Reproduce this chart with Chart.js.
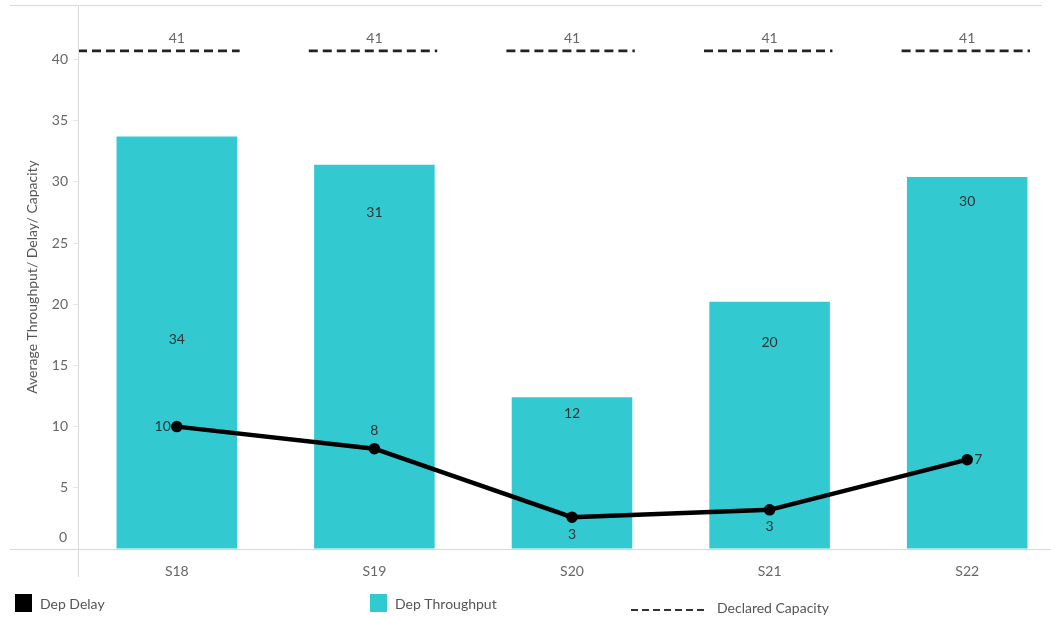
<!DOCTYPE html>
<html>
<head>
<meta charset="utf-8">
<script src="https://cdn.jsdelivr.net/npm/chart.js@4"></script>
<style>
  html, body { margin: 0; padding: 0; background: #fff; overflow: hidden; }
  #wrap { position: relative; width: 1066px; height: 617px; }
</style>
</head>
<body>
<div id="wrap"><canvas id="myChart" width="1066" height="617"></canvas></div>
<script>
const categories = ['S18', 'S19', 'S20', 'S21', 'S22'];
const depThroughput = [33.7, 31.4, 12.4, 20.2, 30.4];
const depDelay = [10.0, 8.2, 2.6, 3.2, 7.3];
const declaredCapacity = [40.7, 40.7, 40.7, 40.7, 40.7];
const yTicks = [0, 5, 10, 15, 20, 25, 30, 35, 40];

const TEAL = '#33c9d0';
const FONT = 'Lato, "Open Sans", sans-serif';
const GREY = '#666';
const DARK = '#2d3436';

// where the value text sits inside each bar (in axis units) and on which side of the delay points
const barLabelAt = [17.1, 27.5, 11.1, 16.9, 28.4];
const delayLabelSide = ['left', 'top', 'bottom', 'bottom', 'right'];

const extras = {
  id: 'extras',
  afterDatasetsDraw(chart) {
    const ctx = chart.ctx;
    const y = chart.scales.y;
    const area = chart.chartArea;
    const bars = chart.getDatasetMeta(1).data;
    const pts = chart.getDatasetMeta(0).data;
    const cell = (area.right - area.left) / categories.length;

    ctx.save();
    ctx.font = '14px ' + FONT;
    ctx.textBaseline = 'middle';

    // value text on the bars
    ctx.fillStyle = DARK;
    ctx.textAlign = 'center';
    bars.forEach((b, i) => {
      ctx.fillText(Math.round(depThroughput[i]), b.x, y.getPixelForValue(barLabelAt[i]));
    });

    // value text next to delay points
    pts.forEach((p, i) => {
      let tx = p.x, ty = p.y;
      const side = delayLabelSide[i];
      if (side === 'left') { ctx.textAlign = 'right'; tx -= 6; }
      else if (side === 'right') { ctx.textAlign = 'left'; tx += 7; }
      else { ctx.textAlign = 'center'; ty += side === 'top' ? -18 : 17; }
      ctx.fillText(Math.round(depDelay[i]), tx, ty);
    });

    // declared capacity dashes per column
    ctx.strokeStyle = '#222';
    ctx.lineWidth = 2.6;
    ctx.setLineDash([9, 5]);
    bars.forEach((b, i) => {
      const cy = y.getPixelForValue(declaredCapacity[i]);
      const x0 = i === 0 ? area.left : b.x - cell * 0.332;
      const x1 = b.x + cell * 0.318;
      ctx.beginPath();
      ctx.moveTo(x0, cy);
      ctx.lineTo(x1, cy);
      ctx.stroke();
      ctx.fillStyle = GREY;
      ctx.textAlign = 'center';
      ctx.fillText(Math.round(declaredCapacity[i]), b.x, cy - 12);
    });
    ctx.restore();
  },
  afterDraw(chart) {
    const ctx = chart.ctx;
    const area = chart.chartArea;
    const y = chart.scales.y;
    ctx.save();

    // pane borders
    ctx.strokeStyle = '#d9d9d9';
    ctx.lineWidth = 1;
    ctx.beginPath();
    ctx.moveTo(10, area.top + 0.5); ctx.lineTo(1042, area.top + 0.5);
    ctx.moveTo(10, area.bottom + 0.5); ctx.lineTo(area.left, area.bottom + 0.5);
    ctx.moveTo(area.left + 0.5, area.top); ctx.lineTo(area.left + 0.5, 577);
    ctx.stroke();

    // zero label sits just above its tick
    ctx.font = '14px ' + FONT;
    ctx.fillStyle = GREY;
    ctx.textAlign = 'right';
    ctx.textBaseline = 'middle';
    ctx.fillText('0', 67, y.getPixelForValue(0) - 12);

    // axis title
    ctx.save();
    ctx.translate(32, (area.top + area.bottom) / 2);
    ctx.rotate(-Math.PI / 2);
    ctx.textAlign = 'center';
    ctx.fillStyle = '#555';
    ctx.fillText('Average Throughput/ Delay/ Capacity', 0, 0);
    ctx.restore();

    // legend
    ctx.fillStyle = '#000';
    ctx.fillRect(15, 594, 17, 18);
    ctx.fillStyle = TEAL;
    ctx.fillRect(370, 594, 17, 18);
    ctx.strokeStyle = '#333';
    ctx.lineWidth = 2;
    ctx.setLineDash([7, 4]);
    ctx.beginPath();
    ctx.moveTo(631, 610); ctx.lineTo(708, 610);
    ctx.stroke();
    ctx.fillStyle = '#555';
    ctx.textAlign = 'left';
    ctx.fillText('Dep Delay', 40, 604);
    ctx.fillText('Dep Throughput', 395, 604);
    ctx.fillText('Declared Capacity', 717, 608);
    ctx.restore();
  }
};

new Chart(document.getElementById('myChart'), {
  data: {
    labels: categories,
    datasets: [
      {
        type: 'line',
        label: 'Dep Delay',
        data: depDelay,
        borderColor: '#000',
        backgroundColor: '#000',
        borderWidth: 4.5,
        pointRadius: 3.5,
        pointBackgroundColor: '#000',
        tension: 0,
        order: 0
      },
      {
        type: 'bar',
        label: 'Dep Throughput',
        data: depThroughput,
        backgroundColor: TEAL,
        borderWidth: 0,
        barPercentage: 0.61,
        categoryPercentage: 1,
        order: 1
      }
    ]
  },
  options: {
    responsive: false,
    animation: false,
    layout: { autoPadding: false, padding: { top: 5, left: 0, right: 0, bottom: 0 } },
    plugins: {
      legend: { display: false },
      tooltip: { enabled: false }
    },
    scales: {
      x: {
        grid: { display: false },
        border: { color: '#d9d9d9' },
        ticks: { color: GREY, font: { family: FONT, size: 14 }, padding: 6 },
        afterFit(axis) { axis.height = 68; axis.paddingLeft = 0; axis.paddingRight = 0; }
      },
      y: {
        min: 0,
        max: 44.45,
        afterBuildTicks(axis) { axis.ticks = yTicks.map(v => ({ value: v })); },
        grid: { drawOnChartArea: false, tickLength: 5, color: '#e6e6e6' },
        border: { color: '#d9d9d9' },
        ticks: {
          color: GREY,
          font: { family: FONT, size: 14, lineHeight: 0.6 },
          padding: 5,
          callback: v => (v === 0 ? '' : v)
        },
        afterFit(axis) { axis.width = 78; axis.paddingTop = 0; axis.paddingBottom = 0; }
      }
    }
  },
  plugins: [extras]
});
</script>
</body>
</html>
